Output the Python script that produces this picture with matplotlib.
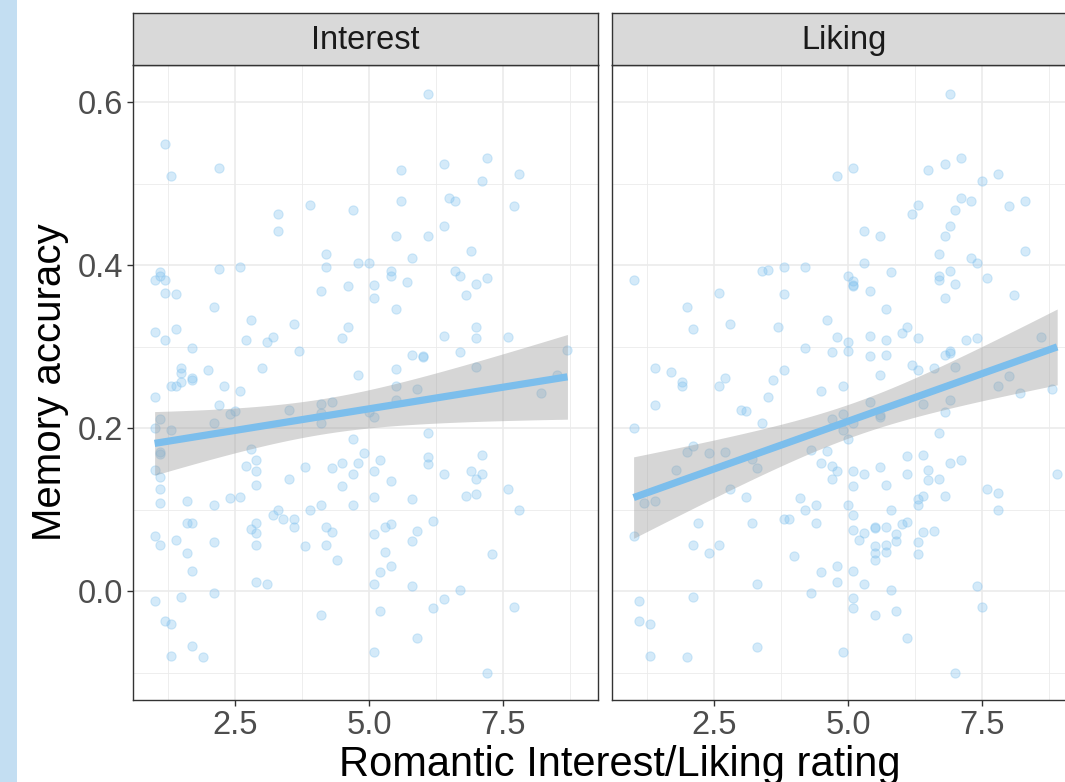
import numpy as np
import matplotlib
matplotlib.use("Agg")
import matplotlib.pyplot as plt
from matplotlib.patches import Rectangle

plt.rcParams['font.family'] = ['Liberation Sans', 'DejaVu Sans']

# ---------------- data ----------------
panel_titles = ["Interest", "Liking"]
x_ticks = [2.5, 5.0, 7.5]
y_ticks = [0.0, 0.2, 0.4, 0.6]
x_label = "Romantic Interest/Liking rating"
y_label = "Memory accuracy"

interest_points = [
    (6.1, .610), (1.2, .548), (2.2, .519), (1.3, .509), (5.6, .517), (6.4, .524), (7.2, .531), (7.1, .503),
    (7.8, .512), (3.3, .462), (3.3, .442), (3.9, .474), (4.7, .468), (5.6, .478), (6.5, .482), (6.6, .478),
    (7.7, .473), (6.4, .448), (5.5, .436), (6.1, .436), (6.9, .417), (4.2, .414), (5.8, .409), (4.2, .397),
    (4.8, .402), (5.0, .402), (1.1, .392), (1.1, .386), (1.0, .382), (1.2, .382), (2.2, .395), (2.6, .398),
    (5.4, .393), (5.4, .386), (5.7, .379), (6.6, .393), (6.7, .387), (7.2, .384), (7.0, .377), (5.1, .375),
    (4.6, .374), (4.1, .368), (5.1, .359), (6.8, .363), (1.2, .366), (1.4, .365), (2.1, .349), (5.5, .346),
    (2.8, .333), (3.6, .328), (4.6, .324), (7.0, .324), (1.0, .318), (1.4, .321), (1.2, .308), (1.7, .298),
    (2.7, .308), (3.1, .305), (3.2, .312), (4.5, .310), (6.4, .313), (7.0, .310), (7.6, .312), (3.7, .294),
    (5.8, .290), (6.0, .288), (6.0, .287), (6.7, .293), (8.7, .296),
    (1.5, .274), (1.5, .268), (2.0, .271), (3.0, .274), (4.8, .265), (5.5, .272), (7.0, .275), (8.5, .265),
    (1.3, .252), (1.4, .252), (1.5, .256), (1.7, .261), (1.7, .259), (2.3, .252), (2.6, .245), (1.0, .238),
    (2.2, .228), (5.5, .252), (5.9, .248), (5.5, .234), (8.2, .243), (4.1, .229), (4.3, .232), (3.5, .222),
    (2.4, .217), (2.5, .221), (1.1, .211), (2.1, .206), (4.1, .218), (4.1, .206), (5.0, .220), (5.1, .214),
    (1.0, .200), (1.3, .198), (6.1, .194), (4.7, .187), (1.1, .171), (1.1, .168), (2.8, .174), (2.9, .161),
    (4.9, .169), (7.1, .167), (6.1, .165), (6.1, .156), (5.2, .161), (4.5, .157), (4.8, .157), (2.7, .153),
    (3.8, .152), (4.3, .151), (2.9, .147), (5.1, .147), (6.9, .147), (7.1, .144), (6.4, .144), (4.7, .144),
    (1.0, .149), (1.1, .140), (7.0, .137), (3.5, .137), (5.4, .135), (2.9, .130), (4.5, .129), (1.1, .125),
    (7.6, .125), (6.8, .116), (7.0, .119), (5.1, .115), (5.8, .113), (2.4, .114), (2.6, .115), (1.1, .108),
    (1.6, .110), (2.1, .106), (4.1, .105), (4.7, .106), (3.3, .099), (3.9, .099), (7.8, .099), (3.2, .093),
    (3.4, .088), (3.6, .088), (3.6, .078), (6.2, .086), (1.6, .084), (1.7, .084), (2.9, .084), (4.2, .079),
    (5.4, .082), (5.3, .078), (2.8, .076), (2.9, .071), (4.3, .072), (5.9, .074), (5.1, .070), (1.0, .067),
    (1.4, .063), (5.8, .061), (1.1, .056), (2.1, .060), (2.9, .056), (3.8, .055), (4.2, .057), (1.6, .047),
    (5.3, .048), (7.3, .046), (4.4, .038), (5.4, .031), (1.7, .025), (5.2, .023), (2.9, .011), (3.1, .009),
    (5.1, .009), (5.8, .006), (6.7, .001), (2.1, -.002), (1.5, -.007), (1.0, -.012), (6.4, -.010), (6.2, -.021),
    (7.7, -.020), (5.2, -.025), (4.1, -.029), (1.2, -.037), (1.3, -.041), (5.9, -.058), (1.7, -.068), (1.3, -.080),
    (1.9, -.081), (5.1, -.075), (7.2, -.100),
]

liking_points = [
    (6.9, .610), (4.8, .509), (5.1, .519), (6.5, .517), (6.8, .524), (7.1, .531), (7.5, .503), (7.8, .512),
    (6.3, .474), (6.2, .462), (7.1, .482), (7.3, .478), (7.0, .468), (8.0, .473), (8.3, .478), (6.9, .448),
    (6.8, .436), (5.3, .442), (5.6, .436), (6.7, .414), (7.3, .409), (7.4, .402), (8.3, .417), (5.3, .402),
    (1.0, .381), (3.4, .393), (3.5, .394), (3.8, .398), (4.2, .397), (5.0, .386), (5.1, .380), (5.1, .375),
    (5.1, .374), (5.8, .391), (6.7, .387), (6.7, .382), (6.9, .393), (7.0, .377), (7.6, .384), (2.6, .366),
    (3.8, .364), (5.4, .368), (6.8, .359), (8.1, .363), (2.0, .349), (5.7, .346), (2.1, .321), (2.8, .328),
    (3.7, .324), (4.6, .333), (4.8, .312), (5.0, .305), (5.4, .313), (5.7, .308), (6.0, .317), (6.1, .324),
    (6.3, .310), (7.2, .308), (7.4, .310), (8.6, .312), (4.2, .298), (4.7, .293), (5.0, .294), (5.4, .288),
    (5.7, .290), (6.8, .289), (6.9, .295), (6.9, .292),
    (1.4, .274), (1.7, .269), (1.9, .256), (1.9, .252), (2.6, .252), (2.7, .261), (3.6, .259), (3.8, .271),
    (3.5, .238), (1.4, .228), (3.0, .222), (3.1, .221), (3.4, .206), (4.5, .245), (4.9, .252), (5.6, .265),
    (6.2, .277), (6.3, .271), (6.6, .274), (7.0, .275), (7.8, .252), (8.0, .264), (8.2, .243), (8.8, .248),
    (8.9, .144), (5.4, .232), (6.4, .229), (6.9, .234), (6.8, .220), (4.7, .211), (4.9, .217), (5.1, .206),
    (5.6, .216), (5.6, .213), (4.9, .197), (5.0, .187), (1.0, .200), (6.7, .194), (2.1, .178), (2.0, .170),
    (2.4, .169), (2.7, .170), (4.3, .173), (4.6, .172), (1.8, .149), (3.2, .162), (3.3, .151), (4.5, .157),
    (4.7, .153), (4.8, .147), (4.7, .137), (5.1, .147), (5.3, .144), (5.1, .129), (5.6, .152), (5.7, .130),
    (6.1, .166), (6.1, .144), (6.4, .167), (6.5, .148), (6.5, .136), (6.7, .137), (6.9, .157), (7.1, .161),
    (7.6, .125), (7.8, .120), (7.8, .099), (6.8, .116), (6.3, .113), (6.3, .106), (6.4, .116), (1.2, .108),
    (1.4, .110), (2.8, .125), (3.1, .115), (4.1, .114), (4.4, .106), (4.2, .099), (5.0, .105), (5.1, .093),
    (5.8, .099), (1.0, .067), (2.2, .084), (3.2, .084), (3.8, .088), (3.9, .088), (4.4, .084), (5.1, .075),
    (5.3, .071), (5.2, .063), (5.5, .078), (5.5, .077), (5.7, .079), (6.0, .082), (6.1, .085), (5.9, .070),
    (5.9, .061), (6.4, .072), (6.6, .074), (6.3, .060), (6.3, .046), (2.1, .056), (2.4, .047), (2.6, .056),
    (5.5, .055), (5.7, .057), (5.5, .047), (5.7, .048), (5.5, .038), (4.0, .043), (4.8, .031), (4.5, .023),
    (5.1, .025), (4.8, .011), (3.3, .009), (5.3, .009), (4.3, -.002), (5.8, .001), (7.4, .006), (2.1, -.007),
    (1.1, -.012), (5.1, -.009), (5.1, -.021), (5.9, -.025), (5.5, -.029), (7.5, -.020), (1.1, -.037), (1.3, -.041),
    (6.1, -.058), (3.3, -.069), (1.3, -.080), (2.0, -.081), (4.9, -.075), (7.0, -.100),
]

interest_x, interest_y = map(np.array, zip(*interest_points))
liking_x, liking_y = map(np.array, zip(*liking_points))

# ---------------- styling ----------------
POINT_COL = "#7EC0EE"
LINE_COL = "#7CBEEC"
RIBBON_COL = "#999999"
GRID_COL = "#EBEBEB"
BORDER_COL = "#333333"
STRIP_FILL = "#D9D9D9"
TICK_TXT = "#4D4D4D"

W, H = 1065, 782
fig = plt.figure(figsize=(W / 100, H / 100), dpi=100)
fig.patch.set_facecolor("white")


def rect(x0, y0, x1, y1):
    return [x0 / W, 1 - y1 / H, (x1 - x0) / W, (y1 - y0) / H]


# light blue bar on the left edge
fig.patches.append(Rectangle((0, 0), 17 / W, 1, transform=fig.transFigure,
                             facecolor="#C3DEF2", edgecolor="none", zorder=0))

XLIM = (0.597, 9.27)
YLIM = (-0.1337, 0.6454)
T975 = 1.972


def lm_band(x, y):
    n = len(x)
    b, a = np.polyfit(x, y, 1)
    xs = np.linspace(x.min(), x.max(), 80)
    yhat = a + b * xs
    resid = y - (a + b * x)
    s = np.sqrt(np.sum(resid ** 2) / (n - 2))
    xbar = x.mean()
    sxx = np.sum((x - xbar) ** 2)
    se = s * np.sqrt(1 / n + (xs - xbar) ** 2 / sxx)
    return xs, yhat, yhat - T975 * se, yhat + T975 * se


panels = [(interest_x, interest_y, (133, 65, 598, 700), (133, 13, 598, 65)),
          (liking_x, liking_y, (612, 65, 1077, 700), (612, 13, 1077, 65))]

for i, (px, py, prect, srect) in enumerate(panels):
    ax = fig.add_axes(rect(*prect))
    ax.set_facecolor("white")
    ax.set_xlim(*XLIM)
    ax.set_ylim(*YLIM)
    ax.set_xticks(x_ticks)
    ax.set_xticklabels([f"{v:.1f}" for v in x_ticks])
    ax.set_yticks(y_ticks)
    ax.set_xticks([1.25, 3.75, 6.25, 8.75], minor=True)
    ax.set_yticks([-0.1, 0.1, 0.3, 0.5], minor=True)
    ax.grid(True, which="major", color=GRID_COL, linewidth=1.2, zorder=0)
    ax.grid(True, which="minor", color=GRID_COL, linewidth=0.6, zorder=0)
    ax.set_axisbelow(True)
    ax.tick_params(which="minor", length=0)
    ax.tick_params(which="major", length=4, width=1.0, color=BORDER_COL,
                   labelsize=23.5, labelcolor=TICK_TXT, pad=3)
    if i == 0:
        ax.set_yticklabels([f"{v:.1f}" for v in y_ticks])
    else:
        ax.tick_params(axis="y", which="major", length=0, labelleft=False)
    for sp in ax.spines.values():
        sp.set_color(BORDER_COL)
        sp.set_linewidth(1.0)

    ax.scatter(px, py, s=44, facecolor=POINT_COL, edgecolor=POINT_COL,
               linewidths=0.8, alpha=0.33, zorder=2)
    xs, yhat, lo, hi = lm_band(px, py)
    ax.fill_between(xs, lo, hi, color=RIBBON_COL, alpha=0.4, linewidth=0, zorder=3)
    ax.plot(xs, yhat, color=LINE_COL, linewidth=5.2, solid_capstyle="butt", zorder=4)

    sax = fig.add_axes(rect(*srect))
    sax.set_facecolor(STRIP_FILL)
    sax.set_xticks([])
    sax.set_yticks([])
    for sp in sax.spines.values():
        sp.set_color(BORDER_COL)
        sp.set_linewidth(1.0)
    sax.text(0.5, 0.47, panel_titles[i], transform=sax.transAxes, ha="center",
             va="center", fontsize=23.5, color="#1A1A1A")

fig.text(50 / W, 1 - 382 / H, y_label, rotation=90, ha="center", va="center",
         fontsize=29, color="black")
fig.text(620 / W, 1 - 776 / H, x_label, ha="center", va="baseline",
         fontsize=30, color="black")

fig.savefig("out.png", dpi=100)
